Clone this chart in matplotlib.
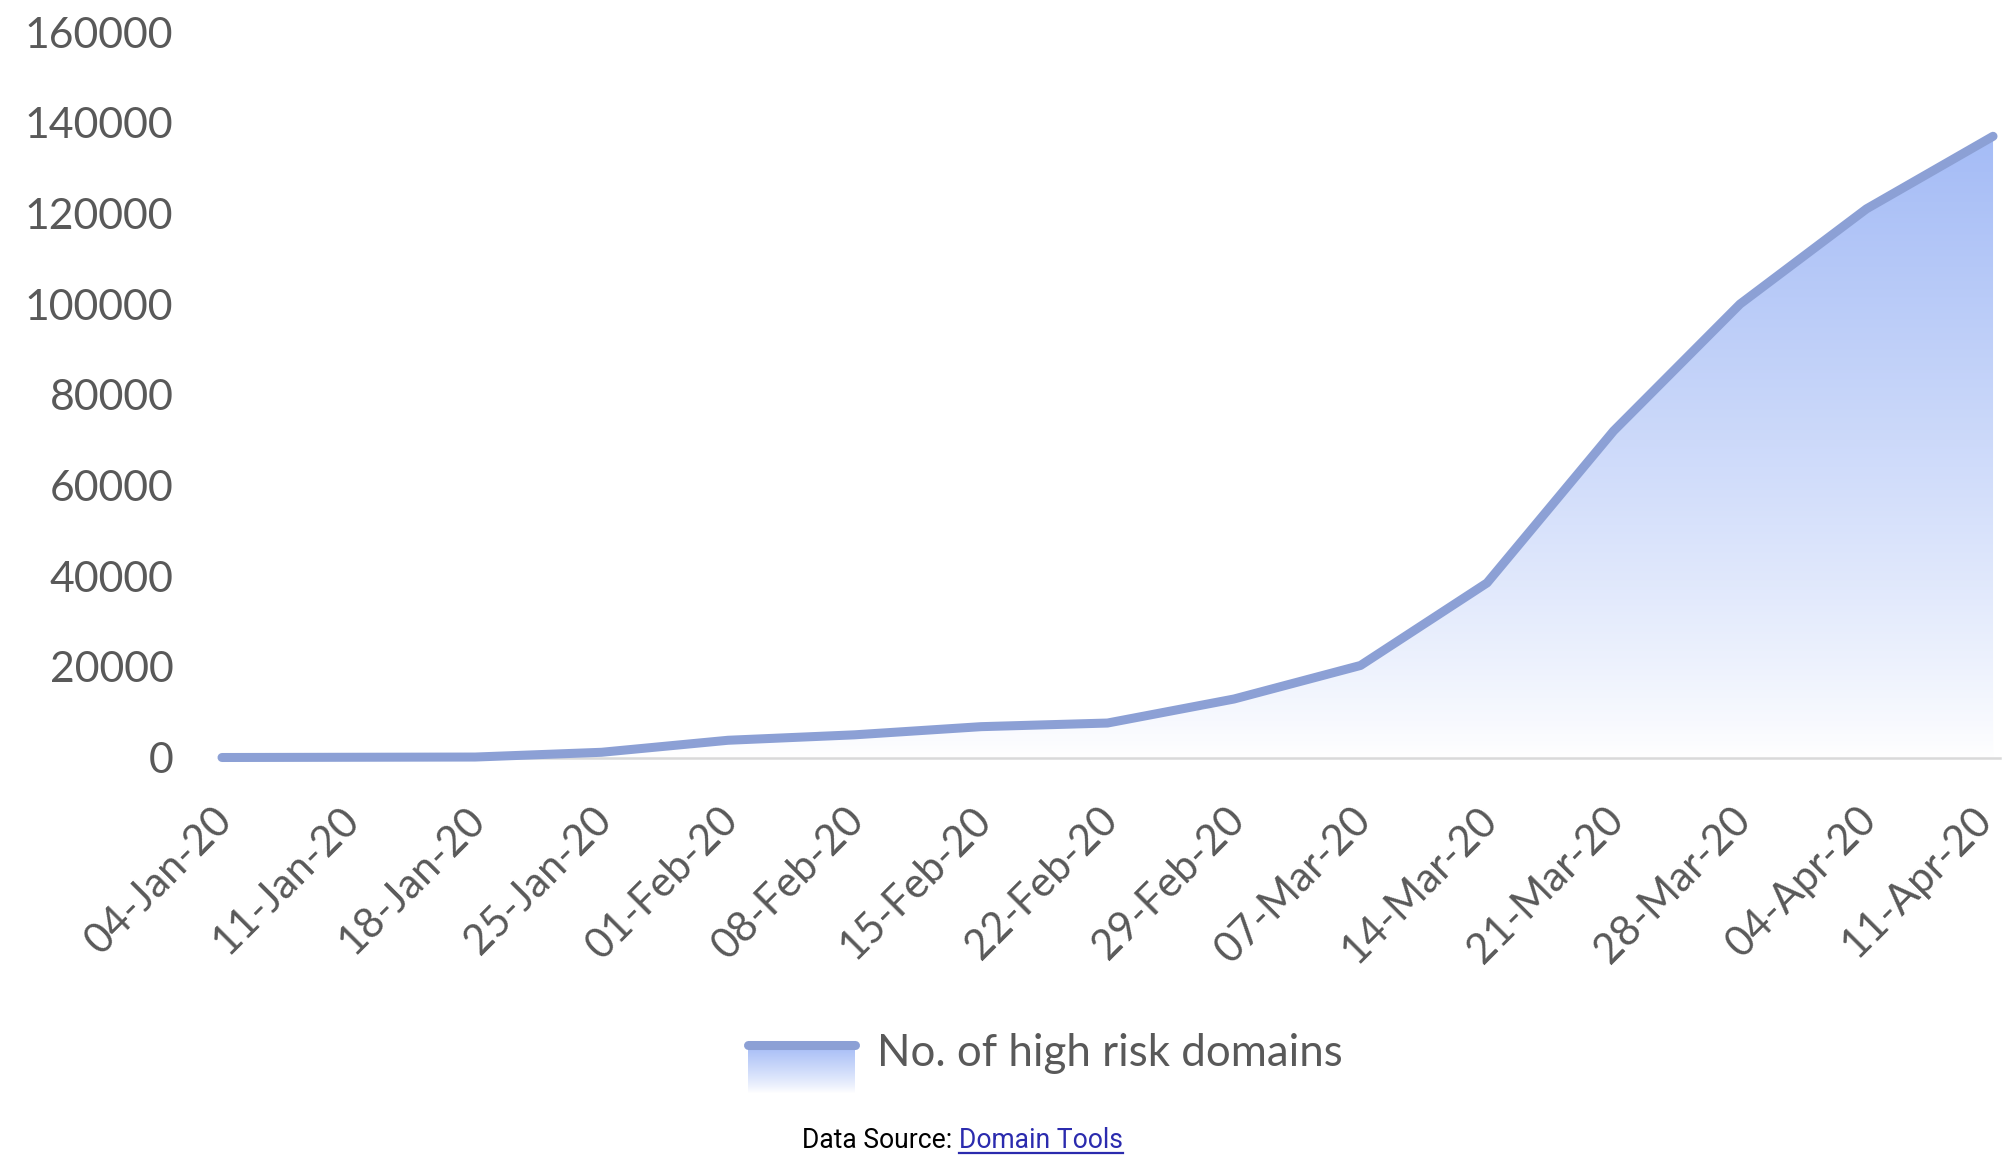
import matplotlib
matplotlib.use('Agg')
import matplotlib.pyplot as plt
import matplotlib.transforms as mtransforms
from matplotlib.colors import LinearSegmentedColormap
from matplotlib.lines import Line2D
import numpy as np

# weekly counts of high risk domains
weeks = ['04-Jan-20', '11-Jan-20', '18-Jan-20', '25-Jan-20', '01-Feb-20',
         '08-Feb-20', '15-Feb-20', '22-Feb-20', '29-Feb-20', '07-Mar-20',
         '14-Mar-20', '21-Mar-20', '28-Mar-20', '04-Apr-20', '11-Apr-20']
domains = [0, 50, 100, 1150, 3800, 5000, 6800, 7600, 12900, 20300,
           38500, 72000, 100000, 121000, 137000]
yticks = [0, 20000, 40000, 60000, 80000, 100000, 120000, 140000, 160000]
series_name = 'No. of high risk domains'

W, H, DPI = 2006, 1155, 100
label_grey = '#595959'
line_col = '#8CA0D5'
fill_top = '#A5BCF6'
font = 'Lato'

fig = plt.figure(figsize=(W / DPI, H / DPI), dpi=DPI)
x0, x1 = 222, 2000
y0, y1 = 757.5, 32
ax = fig.add_axes([x0 / W, 1 - y0 / H, (x1 - x0) / W, (y0 - y1) / H])

x = np.arange(len(weeks))
xlim = (0, (len(weeks) - 1) + 7 / 127.0)

# gradient area under the curve
grad = LinearSegmentedColormap.from_list('fade', ['#FFFFFF', fill_top])
poly = ax.fill_between(x, domains, 0, facecolor='none', edgecolor='none')
ramp = np.linspace(0, 1, 256).reshape(-1, 1) ** 0.85
im = ax.imshow(ramp, cmap=grad, origin='lower', aspect='auto',
               extent=[x[0], x[-1], 0, max(domains)], zorder=1)
im.set_clip_path(poly.get_paths()[0], transform=ax.transData)
ax.set_xlim(*xlim)
ax.set_ylim(0, 160000)

ax.plot(x, domains, color=line_col, lw=6.5, solid_capstyle='round',
        solid_joinstyle='round', zorder=3, clip_on=False)

for s in ['top', 'right', 'left']:
    ax.spines[s].set_visible(False)
ax.spines['bottom'].set_color('#D9D9D9')
ax.spines['bottom'].set_linewidth(1.8)
ax.spines['bottom'].set_zorder(2)

ax.set_yticks(yticks)
ax.set_yticklabels([str(v) for v in yticks], fontsize=30.8, family=font,
                   color=label_grey)
ax.tick_params(axis='y', length=0, pad=35)

ax.set_xticks(x)
ax.set_xticklabels(weeks, fontsize=30, family=font, color=label_grey,
                   rotation=45, ha='right', va='center', rotation_mode='anchor')
ax.tick_params(axis='x', length=0, pad=0)
offset = mtransforms.ScaledTranslation(4 / DPI, -56 / DPI, fig.dpi_scale_trans)
edge_fix = mtransforms.ScaledTranslation(-12 / DPI, 0, fig.dpi_scale_trans)
labels = ax.get_xticklabels()
for lbl in labels:
    lbl.set_transform(lbl.get_transform() + offset)
# keep the last label inside the figure edge
labels[-1].set_transform(labels[-1].get_transform() + edge_fix)

# legend: line over a faded swatch
lx0, lx1, ly_line, ly_bot = 748, 855, 1045, 1093
lax = fig.add_axes([lx0 / W, 1 - ly_bot / H, (lx1 - lx0) / W, (ly_bot - ly_line) / H])
lax.set_axis_off()
lax.set_xlim(0, 1)
lax.set_ylim(0, 1)
lax.imshow(ramp, cmap=grad, origin='lower', aspect='auto', extent=[0, 1, 0, 1])
lax.add_line(Line2D([0, 1], [1, 1], color=line_col, lw=6.5,
                    solid_capstyle='round', clip_on=False))
fig.text(877 / W, 1 - 1053 / H, series_name, fontsize=31.6, family=font,
         color=label_grey, ha='left', va='center')

# source line with underlined link text
src = fig.text(802 / W, 1 - 1148 / H, 'Data Source: ', fontsize=19.1,
               family='Roboto', color='black', ha='left', va='baseline')
link = fig.text(0, 0, 'Domain Tools', fontsize=19.1, family='Roboto',
                color='#2B2BAE', ha='left', va='baseline')
fig.canvas.draw()
r = fig.canvas.get_renderer()
bb = src.get_window_extent(r)
link.set_position((bb.x1 / W, 1 - 1148 / H))
fig.canvas.draw()
lb = link.get_window_extent(r)
uy = (H - 1153) / H
fig.add_artist(Line2D([lb.x0 / W, lb.x1 / W], [uy, uy], color='#2B2BAE',
                      lw=1.6, transform=fig.transFigure))

fig.savefig('out.png', dpi=DPI)
